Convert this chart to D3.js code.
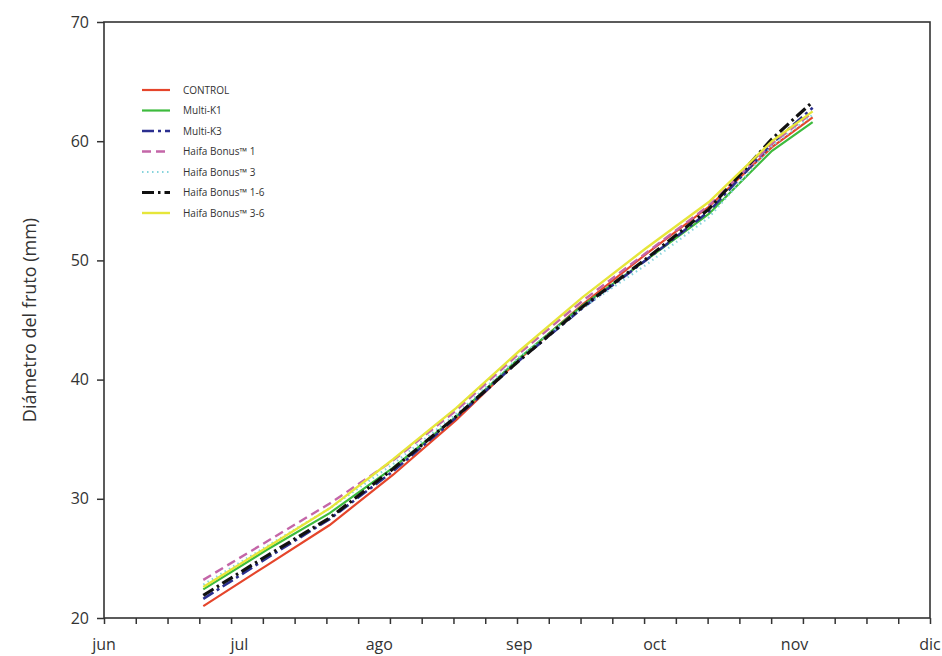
<!DOCTYPE html>
<html>
<head>
<meta charset="utf-8">
<script src="https://cdn.jsdelivr.net/npm/d3@7"></script>
<style>
  body { margin: 0; background: #fff; }
  svg { display: block; font-family: "Open Sans", "DejaVu Sans", sans-serif; }
</style>
</head>
<body>
<svg id="chart" width="942" height="656"></svg>
<script>
// measurement dates (fruit diameter, mm)
const dates = ['2014-06-23', '2014-07-07', '2014-07-21', '2014-08-04', '2014-08-18', '2014-09-01',
               '2014-09-15', '2014-09-29', '2014-10-13', '2014-10-27', '2014-11-05'];

const control = [21.0, 24.4, 27.8, 32.0, 36.6, 41.7, 46.3, 50.5, 54.5, 59.5, 62.0];
const multiK1 = [22.4, 25.7, 28.8, 32.6, 36.9, 41.8, 46.2, 50.0, 53.9, 59.2, 61.6];
const multiK3 = [21.6, 25.0, 28.3, 32.3, 36.8, 41.6, 46.0, 50.0, 54.1, 59.8, 62.8];
const haifa1  = [23.2, 26.4, 29.6, 33.2, 37.4, 42.2, 46.6, 50.6, 54.6, 59.8, 62.4];
const haifa3  = [22.8, 26.0, 29.2, 32.9, 37.1, 41.9, 46.0, 49.6, 53.6, 59.6, 62.2];
const haifa16 = [21.9, 25.2, 28.4, 32.5, 36.9, 41.6, 46.1, 50.1, 54.3, 60.2, 63.3];
const haifa36 = [22.6, 25.9, 29.2, 33.3, 37.6, 42.4, 46.9, 51.0, 54.9, 60.0, 62.5];

const seriesNames = ['CONTROL', 'Multi-K1', 'Multi-K3', 'Haifa Bonus™ 1', 'Haifa Bonus™ 3',
                     'Haifa Bonus™ 1-6', 'Haifa Bonus™ 3-6'];
const seriesValues = [control, multiK1, multiK3, haifa1, haifa3, haifa16, haifa36];

const monthLabels = ['jun', 'jul', 'ago', 'sep', 'oct', 'nov', 'dic'];
const monthStarts = ['2014-06-01', '2014-07-01', '2014-08-01', '2014-09-01', '2014-10-01', '2014-11-01', '2014-12-01'];
const yTicks = [20, 30, 40, 50, 60, 70];

// styling per series (same order as seriesNames)
const styles = [
  { color: '#e5452b', dash: null,         width: 2.2 },
  { color: '#3dbb3d', dash: null,         width: 2.2 },
  { color: '#2b2f8f', dash: '12,4,3,4',   width: 2.6 },
  { color: '#c466a8', dash: '9,5',        width: 2.4 },
  { color: '#86d4dc', dash: '1.5,3.5',    width: 2.2 },
  { color: '#111111', dash: '12,4,2.5,4', width: 3.2 },
  { color: '#e6e63a', dash: null,         width: 2.4 }
];

const parse = d3.timeParse('%Y-%m-%d');
const margin = { left: 104, right: 12, top: 22, bottom: 38 };
const W = 942, H = 656;
const x0 = margin.left, x1 = W - margin.right;
const y0 = H - margin.bottom, y1 = margin.top;

const svg = d3.select('#chart');

const x = d3.scaleTime()
  .domain([parse(monthStarts[0]), parse(monthStarts[monthStarts.length - 1])])
  .range([x0, x1]);
const y = d3.scaleLinear().domain([20, 70]).range([y0, y1]);

// minor ticks: 26 equal steps across the axis
const [t0, t1] = x.domain();
const xTickVals = d3.range(27).map(i => new Date(+t0 + i * (t1 - t0) / 26));

const axisColor = '#333';

// frame
svg.append('rect')
  .attr('x', x0).attr('y', y1)
  .attr('width', x1 - x0).attr('height', y0 - y1)
  .attr('fill', 'none').attr('stroke', axisColor).attr('stroke-width', 1.6);

// x axis ticks
const xAxis = svg.append('g')
  .attr('transform', `translate(0,${y0})`)
  .call(d3.axisBottom(x).tickValues(xTickVals).tickSize(6).tickFormat(''));
xAxis.select('.domain').remove();
xAxis.selectAll('line').attr('stroke', axisColor).attr('stroke-width', 1.5);

// month labels
svg.append('g').selectAll('text')
  .data(monthStarts)
  .join('text')
    .attr('x', d => x(parse(d)))
    .attr('y', y0 + 32)
    .attr('text-anchor', 'middle')
    .attr('font-size', 16)
    .attr('fill', '#333')
    .text((d, i) => monthLabels[i]);

// y axis
const yAxis = svg.append('g')
  .attr('transform', `translate(${x0},0)`)
  .call(d3.axisLeft(y).tickValues(yTicks).tickSize(7).tickPadding(8));
yAxis.select('.domain').remove();
yAxis.selectAll('line').attr('stroke', axisColor).attr('stroke-width', 1.5);
yAxis.selectAll('text').attr('font-size', 16).attr('fill', '#333')
  .attr('font-family', '"Open Sans", sans-serif');

svg.append('text')
  .attr('transform', `translate(36,${(y0 + y1) / 2}) rotate(-90)`)
  .attr('text-anchor', 'middle')
  .attr('font-size', 18)
  .attr('fill', '#333')
  .text('Diámetro del fruto (mm)');

// lines
const line = d3.line()
  .x((d, i) => x(parse(dates[i])))
  .y(d => y(d));

svg.append('g').selectAll('path')
  .data(seriesValues)
  .join('path')
    .attr('d', d => line(d))
    .attr('fill', 'none')
    .attr('stroke', (d, i) => styles[i].color)
    .attr('stroke-width', (d, i) => styles[i].width)
    .attr('stroke-dasharray', (d, i) => styles[i].dash);

// legend
const legend = svg.append('g').attr('transform', 'translate(142,90)');
const rowH = 20.5;
seriesNames.forEach((name, i) => {
  const g = legend.append('g').attr('transform', `translate(0,${i * rowH})`);
  g.append('line')
    .attr('x1', 0).attr('x2', 28)
    .attr('stroke', styles[i].color)
    .attr('stroke-width', styles[i].width)
    .attr('stroke-dasharray', styles[i].dash);
  g.append('text')
    .attr('x', 41).attr('dy', '0.35em')
    .attr('font-size', 10)
    .attr('fill', '#333')
    .text(name);
});
</script>
</body>
</html>
